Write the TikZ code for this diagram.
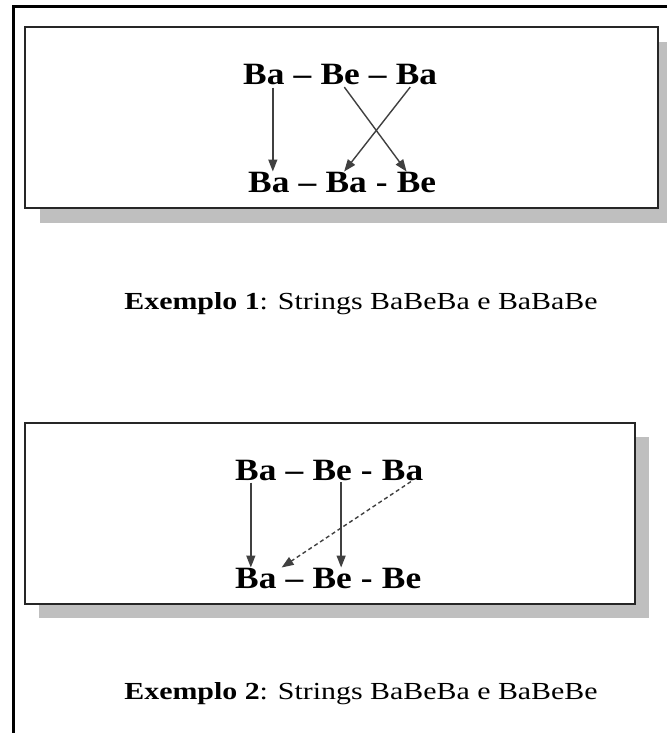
\documentclass[tikz,border=0pt]{standalone}
\usepackage{fontspec}
\setmainfont{Liberation Serif}
\newfontfamily\boxfont{Liberation Serif}[FakeStretch=1.14]
\newfontfamily\capfont{Liberation Serif}[FakeStretch=1.22]
\usetikzlibrary{positioning,arrows.meta}

\begin{document}
\begin{tikzpicture}[x=1pt, y=-1pt,
  node distance=8.8pt,
  syl/.style={inner sep=0pt, font={\boxfont\bfseries\fontsize{31}{37}\selectfont}},
  caption/.style={inner sep=0pt, anchor=base, font={\capfont\fontsize{24.5}{29}\selectfont}},
  panel/.style={draw=black!85, line width=1.8pt, fill=white},
  shade/.style={fill=black!25},
  arr/.style={-{Triangle[length=12pt,width=9pt]}, line width=1.4pt, draw=black!75},
  dasharr/.style={arr, dash pattern=on 4pt off 3pt},
]
\useasboundingbox (0,0) rectangle (667,733);
% outer frame
\draw[line width=3pt] (13,733) -- (13,7) -- (667,7);
% panels with shadows
\fill[shade] (40,42) rectangle (667,223);
\draw[panel] (25,27) rectangle (658,208);
\fill[shade] (39,437) rectangle (649,618);
\draw[panel] (25,423) rectangle (635,604);
% example 1: BaBeBa / BaBaBe
\node[syl, anchor=base west] (t1) at (243,85) {Ba};
\node[syl, base right=of t1] (t2) {–};
\node[syl, base right=of t2] (t3) {Be};
\node[syl, base right=of t3] (t4) {–};
\node[syl, base right=of t4] (t5) {Ba};
\node[syl, anchor=base west] (b1) at (248,192) {Ba};
\node[syl, base right=of b1] (b2) {–};
\node[syl, base right=of b2] (b3) {Ba};
\node[syl, base right=of b3] (b4) {-};
\node[syl, base right=of b4] (b5) {Be};
\draw[arr, shorten <=2pt] ([xshift=9pt]t1.south) -- ([xshift=4pt]b1.north);
\draw[arr, shorten <=2pt] ([xshift=3pt]t3.south) -- ([xshift=-10pt]b5.north);
\draw[arr, shorten <=2pt] ([xshift=-5pt]t5.south) -- ([xshift=-2pt]b3.north);
\node[caption] (cap1) at (361,309) {\textbf{Exemplo 1}: Strings BaBeBa e BaBaBe};
% example 2: BaBeBa / BaBeBe
\node[syl, anchor=base west] (u1) at (235,480) {Ba};
\node[syl, base right=of u1] (u2) {–};
\node[syl, base right=of u2] (u3) {Be};
\node[syl, base right=of u3] (u4) {-};
\node[syl, base right=of u4] (u5) {Ba};
\node[syl, anchor=base west] (v1) at (235,588) {Ba};
\node[syl, base right=of v1] (v2) {–};
\node[syl, base right=of v2] (v3) {Be};
\node[syl, base right=of v3] (v4) {-};
\node[syl, base right=of v4] (v5) {Be};
\draw[arr, shorten <=2pt] ([xshift=-5pt]u1.south) -- ([xshift=-5pt]v1.north);
\draw[arr, shorten <=2pt] ([xshift=9pt]u3.south) -- ([xshift=9pt]v3.north);
\draw[dasharr, shorten <=2pt] ([xshift=10pt]u5.south) -- ([xshift=5pt]v1.north east);
\node[caption] (cap2) at (361,699) {\textbf{Exemplo 2}: Strings BaBeBa e BaBeBe};
\end{tikzpicture}
\end{document}
